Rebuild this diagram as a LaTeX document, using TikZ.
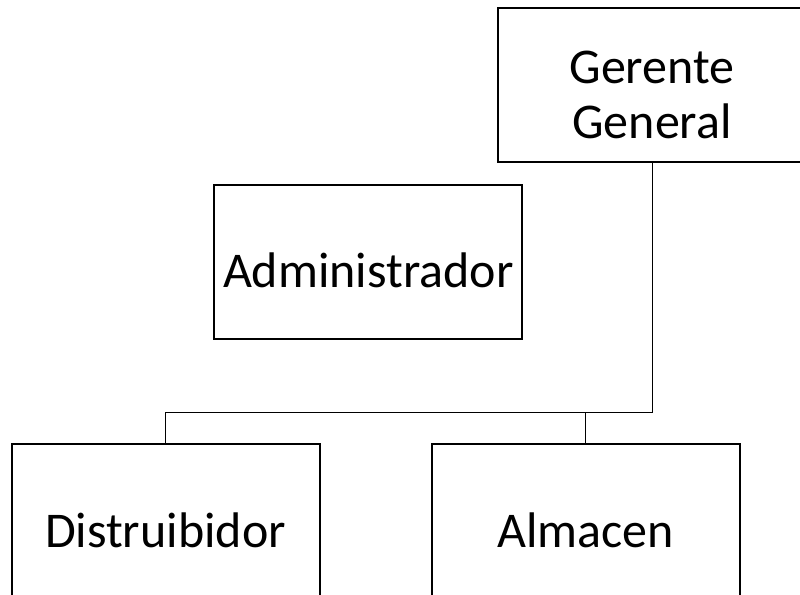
\documentclass[tikz,border=0pt]{standalone}
\usepackage{fontspec}
\setmainfont{Carlito}
\usetikzlibrary{positioning}

\tikzset{
  cargo/.style={draw, line width=1.5pt, rectangle, inner sep=0pt,
    minimum width=231pt, minimum height=115.5pt,
    font=\fontsize{37.5}{41.25}\selectfont,
    text height=39pt, text depth=0pt},
  enlace/.style={draw, line width=0.75pt}
}

\begin{document}
\begin{tikzpicture}[x=0.75pt,y=0.75pt,yscale=-1,xscale=1]
	\useasboundingbox (0,0) rectangle (800,595);
	\clip (0,0) rectangle (800,595);
	\node [cargo, align=center, text height=80pt, text depth=0pt] (gerente) at (652,85) {Gerente\\General};
	\node [cargo] (admin) at (368.3,262) {Administrador};
	\node [cargo] (distrib) at (165.5,521) {Distruibidor};
	\node [cargo] (almacen) at (585.5,521) {Almacen};
	\coordinate (bus) at (400,412.7);
	\draw [enlace] (gerente.south) -- (gerente.south |- bus) -| (distrib.north);
	\draw [enlace] (almacen.north) -- (almacen.north |- bus);
\end{tikzpicture}
\end{document}
